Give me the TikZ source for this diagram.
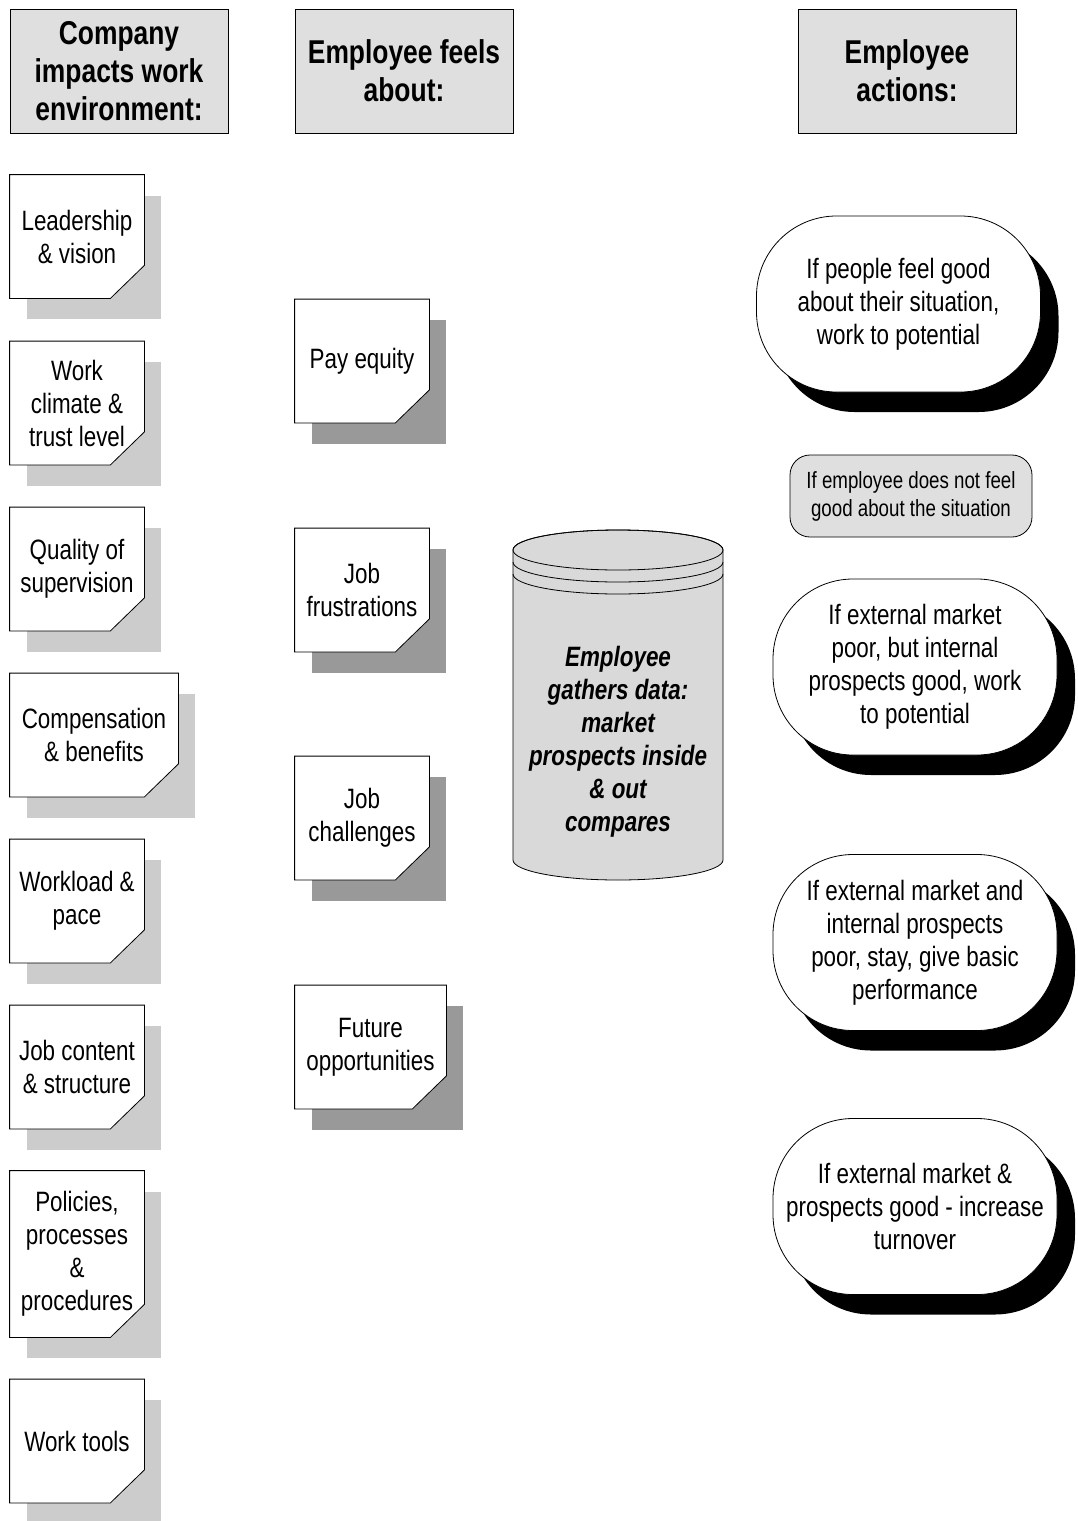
\documentclass[tikz,border=0pt]{standalone}
\usepackage{fontspec}
\setmainfont[FakeStretch=0.8]{Liberation Sans}
\usetikzlibrary{shadows,backgrounds}

\tikzset{
  head/.style={rectangle, draw, fill=gray!25, minimum width=109pt, minimum height=62pt,
    align=center, font=\fontsize{16.5}{19}\selectfont\bfseries},
  factor/.style={rectangle, minimum width=67pt, minimum height=61.5pt, inner sep=1pt,
    align=center, font=\fontsize{14}{16.5}\selectfont},
  action/.style={rectangle, rounded corners=40pt, draw, fill=white, minimum width=142pt,
    minimum height=88pt, align=center, font=\fontsize{14}{16.5}\selectfont,
    drop shadow={shadow xshift=9pt, shadow yshift=-10pt, opacity=1, fill=black}},
  choice/.style={rectangle, rounded corners=10pt, draw, fill=gray!25, minimum width=121pt,
    minimum height=41pt, align=center, font=\fontsize{11.7}{14}\selectfont}
}

\begin{document}
\begin{tikzpicture}[x=0.5pt, y=-0.5pt]
  \useasboundingbox (0,0) rectangle (1077,1521);

  % column heads
  \node[head] (company) at (119,71) {Company\\impacts work\\environment:};
  \node[head] (feels) at (404,71) {Employee feels\\about:};
  \node[head] (actions) at (907,71) {Employee\\actions:};

  % what the company controls
  \node[factor] (lead) at (77,236.5) {Leadership\\\& vision};
  \node[factor] (climate) at (77,403) {Work\\climate \&\\trust level};
  \node[factor] (superv) at (77,569) {Quality of\\supervision};
  \node[factor, minimum width=84pt] (comp) at (94,735) {Compensation\\\& benefits};
  \node[factor] (load) at (77,901) {Workload \&\\pace};
  \node[factor] (content) at (77,1067) {Job content\\\& structure};
  \node[factor, minimum height=83pt] (policy) at (77,1254) {Policies,\\processes\\\&\\procedures};
  \node[factor] (tools) at (77,1441) {Work tools};

  % what the employee feels
  \node[factor] (pay) at (362,361) {Pay equity};
  \node[factor] (frust) at (362,590) {Job\\frustrations};
  \node[factor] (chall) at (362,818) {Job\\challenges};
  \node[factor, minimum width=75.5pt] (future) at (370.5,1047) {Future\\opportunities};

  % shadows and cut corners behind the texts
  \begin{pgfonlayer}{background}
    \foreach \n in {lead,climate,superv,comp,load,content,policy,tools}
      \fill[gray!40] ([shift={(8.5pt,-10.5pt)}]\n.south west) rectangle ([shift={(8.5pt,-10.5pt)}]\n.north east);
    \foreach \n in {pay,frust,chall,future}
      \fill[gray!80] ([shift={(8.5pt,-10.5pt)}]\n.south west) rectangle ([shift={(8.5pt,-10.5pt)}]\n.north east);
    \foreach \n in {lead,climate,superv,comp,load,content,policy,tools,pay,frust,chall,future}
      \filldraw[fill=white] (\n.north west) -- (\n.north east) -- ([yshift=16.5pt]\n.south east)
        -- ([xshift=-17pt]\n.south east) -- (\n.south west) -- cycle;
  \end{pgfonlayer}

  % data store
  \filldraw[fill=gray!30] (513,550) -- (513,860) arc[start angle=180, end angle=0, x radius=105, y radius=20]
    -- (723,550) arc[start angle=0, end angle=-180, x radius=105, y radius=20] -- cycle;
  \draw (618,550) ellipse[x radius=105, y radius=20];
  \draw (513,562) arc[start angle=180, end angle=0, x radius=105, y radius=20];
  \draw (513,574) arc[start angle=180, end angle=0, x radius=105, y radius=20];
  \node[font=\fontsize{14}{16.5}\selectfont\bfseries\itshape, align=center] (gather) at (618,742)
    {Employee\\gathers data:\\market\\prospects inside\\\& out\\compares};

  % employee actions
  \node[action] (good) at (898.5,304) {If people feel good\\about their situation,\\work to potential};
  \node[choice] (notgood) at (911,496) {If employee does not feel\\good about the situation};
  \node[action] (inside) at (915,667) {If external market\\poor, but internal\\prospects good, work\\to potential};
  \node[action] (stay) at (915,942.5) {If external market and\\internal prospects\\poor, stay, give basic\\performance};
  \node[action] (leave) at (915,1206.5) {If external market \&\\prospects good - increase\\turnover};
\end{tikzpicture}
\end{document}
